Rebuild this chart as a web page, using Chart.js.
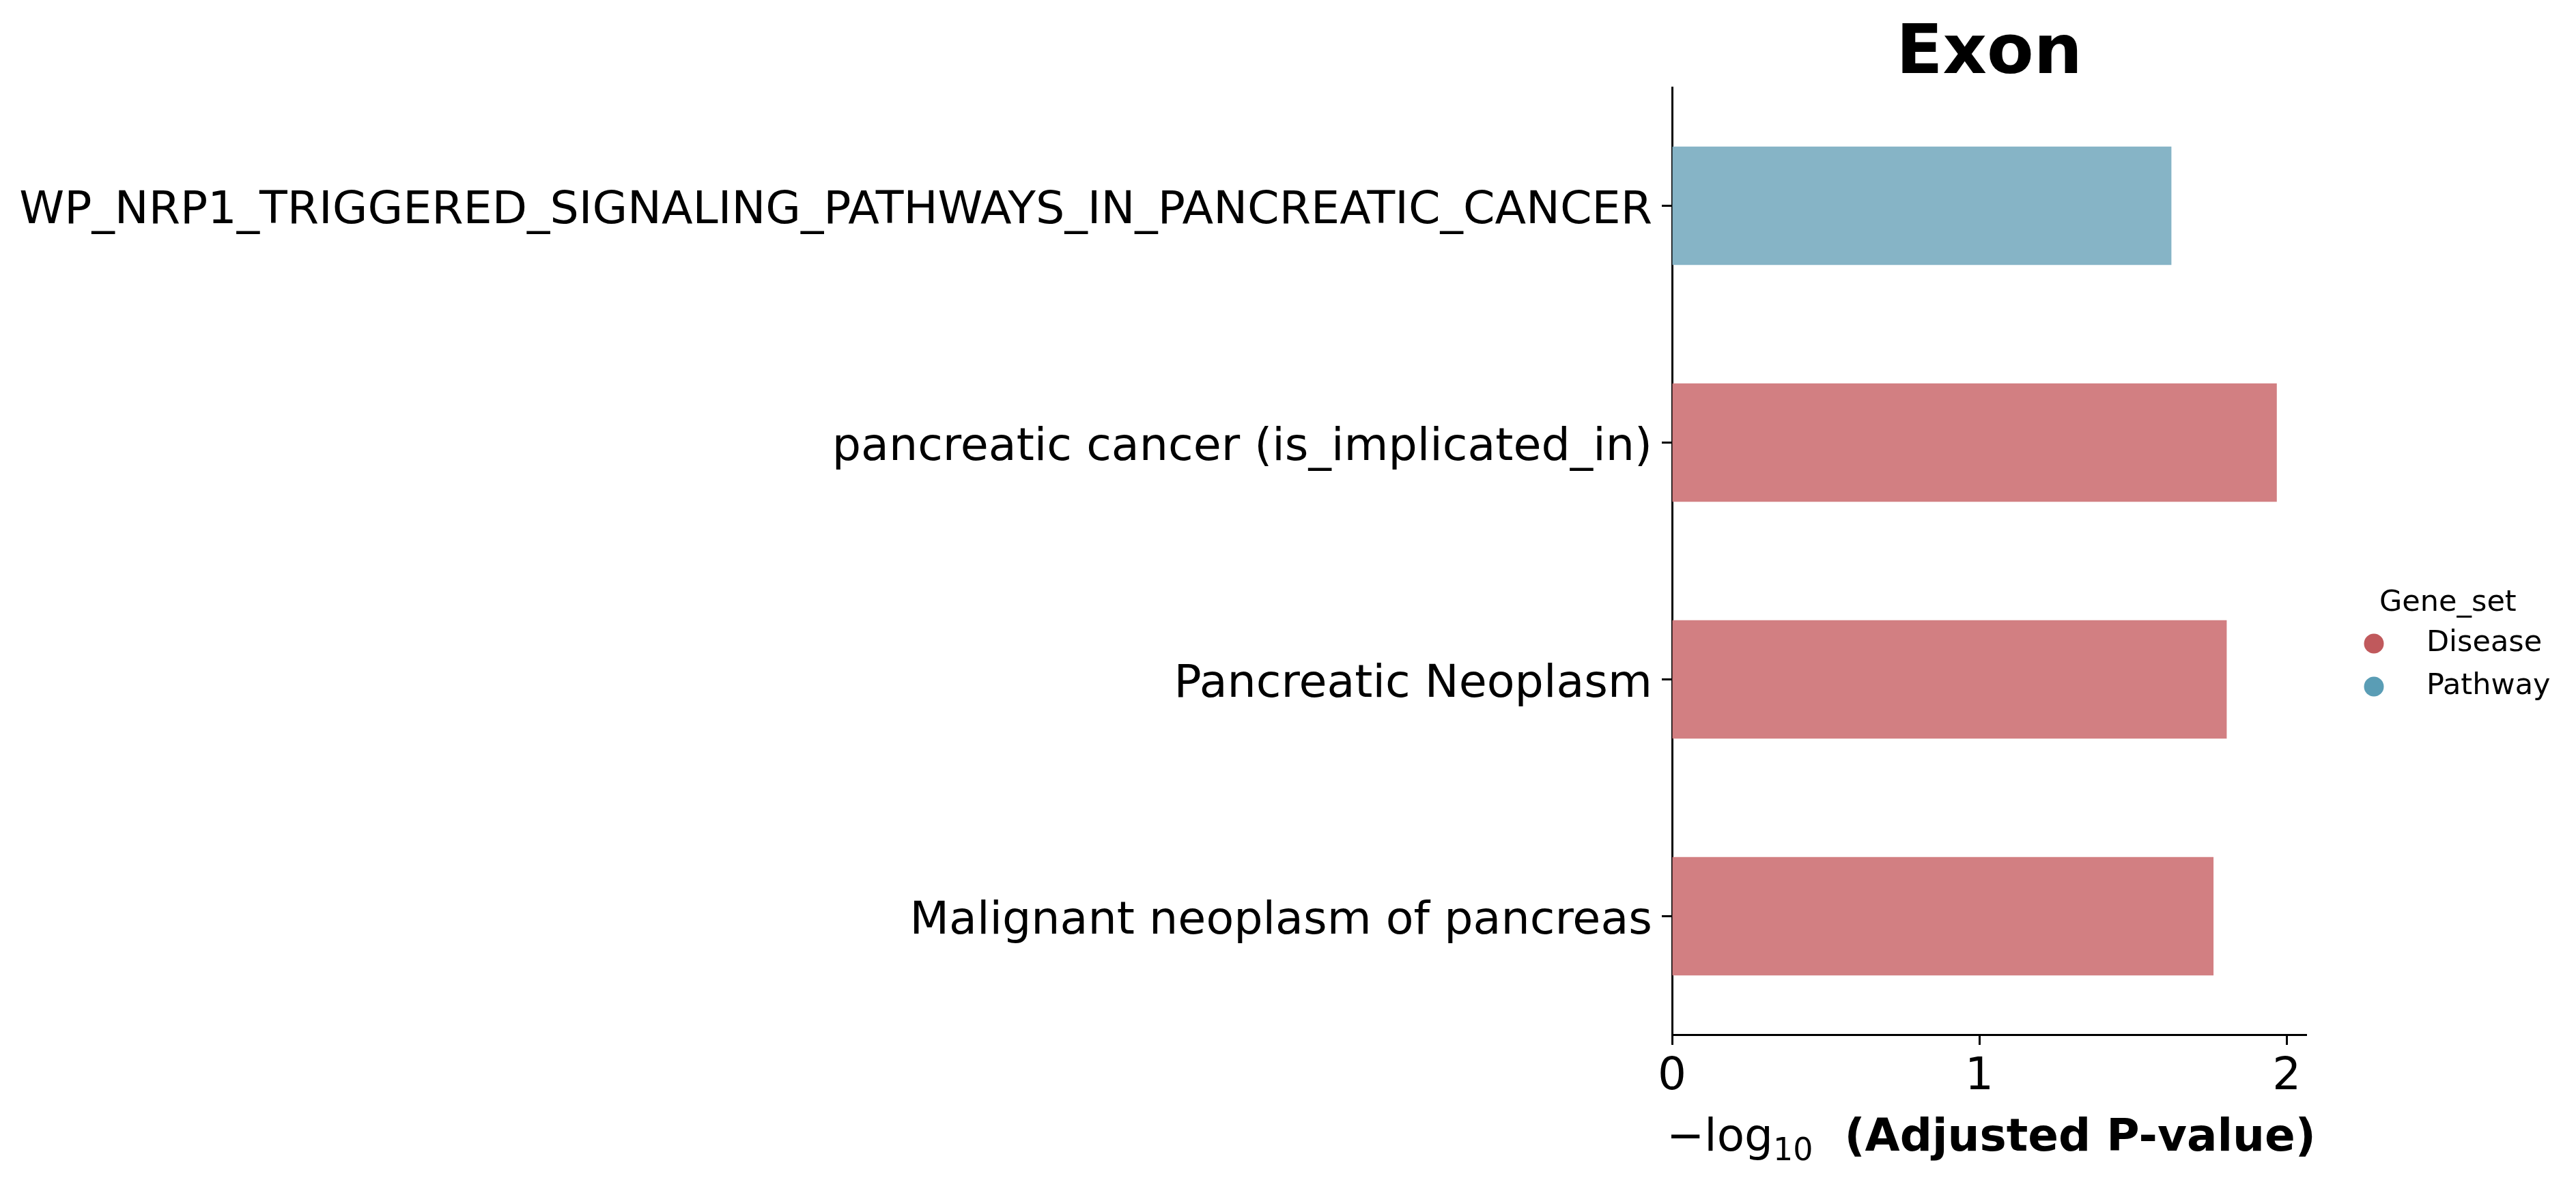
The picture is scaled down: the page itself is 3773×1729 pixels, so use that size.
<!DOCTYPE html>
<html>
<head>
<meta charset="utf-8">
<script src="https://cdn.jsdelivr.net/npm/chart.js@4/dist/chart.umd.min.js"></script>
<style>
  html, body { margin: 0; padding: 0; background: #fff; }
  canvas { display: block; }
</style>
</head>
<body>
<canvas id="enrichChart" width="3773" height="1729"></canvas>
<script>
// enrichment bar chart: -log10 adjusted p-values per term

var categories = [
    'WP_NRP1_TRIGGERED_SIGNALING_PATHWAYS_IN_PANCREATIC_CANCER',
    'pancreatic cancer (is_implicated_in)',
    'Pancreatic Neoplasm',
    'Malignant neoplasm of pancreas'
];
var values = [1.625, 1.968, 1.805, 1.762];
var geneSets = ['Pathway', 'Disease', 'Disease', 'Disease'];
var legendLabels = ['Disease', 'Pathway'];
var xTicks = [0, 1, 2];
var xMax = 2.064;

var barColors = { Disease: '#d27f82', Pathway: '#86b4c6' };   // bars
var markColors = { Disease: '#c0595c', Pathway: '#5a9db5' };  // legend dots

var FONT = "'DejaVu Sans', sans-serif";

// title, x label with subscript, and the Gene_set legend
var extras = {
    id: 'extras',
    afterDraw: function(chart) {
        var ctx = chart.ctx;
        var area = chart.chartArea;
        var cx = (area.left + area.right) / 2;
        ctx.save();
        ctx.fillStyle = '#000';

        // title
        ctx.font = 'bold 100px ' + FONT;
        ctx.textAlign = 'center';
        ctx.textBaseline = 'alphabetic';
        ctx.fillText('Exon', cx, 107);

        // x axis label: −log10 (Adjusted P-value)
        var p1 = '\u2212log', p2 = '10', p3 = '  (Adjusted P-value)';
        ctx.font = '66px ' + FONT;
        var w1 = ctx.measureText(p1).width;
        ctx.font = '46px ' + FONT;
        var w2 = ctx.measureText(p2).width;
        ctx.font = 'bold 66px ' + FONT;
        var w3 = ctx.measureText(p3).width;
        var x = cx - (w1 + w2 + w3) / 2 + 3;
        var base = 1686;
        ctx.textAlign = 'left';
        ctx.font = '66px ' + FONT;
        ctx.fillText(p1, x, base);
        ctx.font = '46px ' + FONT;
        ctx.fillText(p2, x + w1, base + 14);
        ctx.font = 'bold 66px ' + FONT;
        ctx.fillText(p3, x + w1 + w2, base);

        // legend
        ctx.font = '43px ' + FONT;
        ctx.textAlign = 'left';
        ctx.fillText('Gene_set', 3485, 895);
        legendLabels.forEach(function(lbl, i) {
            var y = 943 + i * 63;
            ctx.beginPath();
            ctx.arc(3477, y, 14.5, 0, Math.PI * 2);
            ctx.fillStyle = markColors[lbl];
            ctx.fill();
            ctx.fillStyle = '#000';
            ctx.textBaseline = 'middle';
            ctx.fillText(lbl, 3554, y);
        });
        ctx.restore();
    }
};

var ctx = document.getElementById('enrichChart').getContext('2d');
new Chart(ctx, {
    type: 'bar',
    data: {
        labels: categories,
        datasets: [{
            data: values,
            backgroundColor: geneSets.map(function(g) { return barColors[g]; }),
            borderWidth: 0,
            barPercentage: 0.5,
            categoryPercentage: 1.0
        }]
    },
    options: {
        indexAxis: 'y',
        responsive: false,
        animation: false,
        devicePixelRatio: 1,
        layout: { padding: { top: 128, right: 395, bottom: 0, left: 0 } },
        plugins: {
            legend: { display: false },
            tooltip: { enabled: false }
        },
        scales: {
            x: {
                min: 0,
                max: xMax,
                afterBuildTicks: function(scale) {
                    scale.ticks = xTicks.map(function(v) { return { value: v }; });
                },
                afterFit: function(scale) { scale.height = 213; },
                grid: {
                    display: true,
                    drawOnChartArea: false,
                    drawTicks: true,
                    tickLength: 15,
                    tickWidth: 3,
                    tickColor: '#000'
                },
                border: { display: true, color: '#000', width: 3 },
                ticks: {
                    color: '#000',
                    padding: 8,
                    font: { family: FONT, size: 66 }
                }
            },
            y: {
                afterFit: function(scale) { scale.width = 2449; },
                grid: {
                    display: true,
                    offset: false,
                    drawOnChartArea: false,
                    drawTicks: true,
                    tickLength: 15,
                    tickWidth: 3,
                    tickColor: '#000'
                },
                border: { display: true, color: '#000', width: 3 },
                ticks: {
                    color: '#000',
                    padding: 14,
                    labelOffset: 8,
                    font: { family: FONT, size: 66.7 }
                }
            }
        }
    },
    plugins: [extras]
});
</script>
</body>
</html>
